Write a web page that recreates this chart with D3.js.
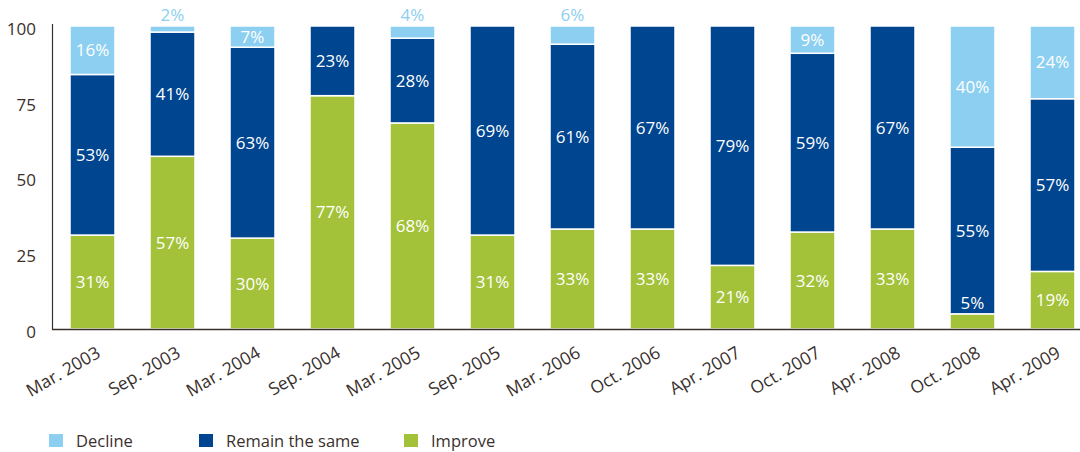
<!DOCTYPE html>
<html><head><meta charset="utf-8">
<script src="https://cdn.jsdelivr.net/npm/d3@7"></script>
<style>body{margin:0;background:#fff}svg{display:block}text{font-family:"Open Sans",sans-serif}</style>
</head><body><svg id="c" width="1080" height="452"></svg>
<script>
const categories = ["Mar. 2003","Sep. 2003","Mar. 2004","Sep. 2004","Mar. 2005","Sep. 2005","Mar. 2006","Oct. 2006","Apr. 2007","Oct. 2007","Apr. 2008","Oct. 2008","Apr. 2009"];
const improve = [31,57,30,77,68,31,33,33,21,32,33,5,19];
const same    = [53,41,63,23,28,69,61,67,79,59,67,55,57];
const decline = [16,2,7,0,4,0,6,0,0,9,0,40,24];
const yTicks = [0,25,50,75,100];
const seriesNames = ["Decline","Remain the same","Improve"];
const colors = {Improve:"#a3c23a", "Remain the same":"#00458f", Decline:"#8ccff0"};
const txt = "#3a302d";

const svg = d3.select("#c");
const xs = d3.scalePoint().domain(categories).range([92.5, 92.5+80*12]);
const bw = 45;
const y = d3.scaleLinear().domain([0,100]).range([329,26]);

const rows = categories.map((c,i)=>({cat:c, Improve:improve[i], "Remain the same":same[i], Decline:decline[i]}));
const stack = d3.stack().keys(["Improve","Remain the same","Decline"])(rows);

const g = svg.append("g");
stack.forEach(layer=>{
  g.selectAll(null).data(layer.filter(d=>d[1]-d[0]>0)).enter().append("rect")
    .attr("x",d=>xs(d.data.cat)-bw/2).attr("width",bw)
    .attr("y",d=>y(d[1])).attr("height",d=>y(d[0])-y(d[1]))
    .attr("fill",colors[layer.key]).attr("stroke","#fff").attr("stroke-width",1.5);
});
stack.forEach(layer=>{
  layer.forEach(d=>{
    const v = d[1]-d[0];
    if(v<=0) return;
    const cx = xs(d.data.cat);
    let ty, fill = "#fff";
    if(v>=7){ ty = (y(d[0])+y(d[1]))/2; }
    else if(layer.key==="Decline"){ ty = y(d[1])-11; fill = colors.Decline; }
    else { ty = y(d[1])-11; }
    g.append("text").attr("x",cx).attr("y",ty).attr("dy","0.36em")
      .attr("text-anchor","middle").attr("font-size",17).attr("fill",fill).text(v+"%");
  });
});
svg.append("line").attr("x1",52.5).attr("x2",52.5).attr("y1",24).attr("y2",330).attr("stroke",txt).attr("stroke-width",1.2);
svg.append("line").attr("x1",52).attr("x2",1080).attr("y1",329.5).attr("y2",329.5).attr("stroke",txt).attr("stroke-width",1.5);
svg.selectAll(".yt").data(yTicks).enter().append("text")
  .attr("x",36).attr("y",d=>y(d)+3).attr("dy","0.35em").attr("text-anchor","end")
  .attr("font-size",17).attr("fill",txt).text(d=>d);
svg.selectAll(".xt").data(categories).enter().append("text")
  .attr("transform",d=>`translate(${xs(d)+6},${351}) rotate(-30)`)
  .attr("text-anchor","end").attr("dy","0.35em").attr("font-size",17.5).attr("fill",txt).text(d=>d);
const legX = [49,199,404];
seriesNames.forEach((n,i)=>{
  svg.append("rect").attr("x",legX[i]).attr("y",434).attr("width",14).attr("height",13).attr("fill",colors[n]);
  svg.append("text").attr("x",legX[i]+27).attr("y",441).attr("dy","0.35em").attr("font-size",16.5).attr("fill",txt).text(n);
});
</script></body></html>
